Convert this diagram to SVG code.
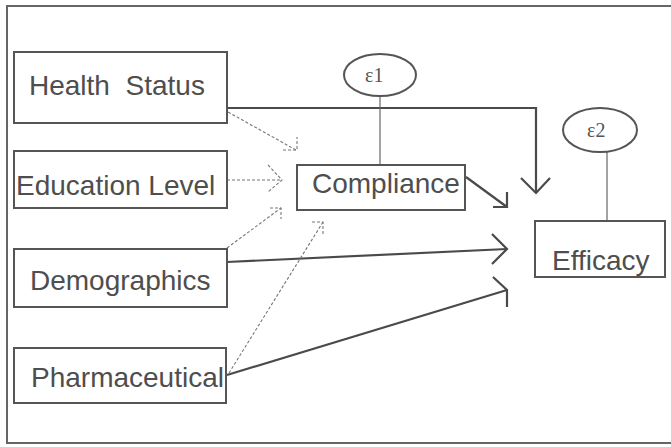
<svg xmlns="http://www.w3.org/2000/svg" width="671" height="447" viewBox="0 0 671 447">
<style>
.box{fill:#fff;stroke:#555;stroke-width:2}
.lbl{font-family:"Liberation Sans",Arial,sans-serif;font-size:28px;fill:#4e4e4e}
.err{fill:#fff;stroke:#555;stroke-width:2}
.eps{font-family:"Liberation Serif","Times New Roman",serif;font-size:20px;fill:#555}
.solid{fill:none;stroke:#4a4a4a;stroke-width:2.2}
.dash{fill:none;stroke:#777;stroke-width:1.1;stroke-dasharray:3 2}
.thin{fill:none;stroke:#666;stroke-width:1.2}
</style>
<rect width="671" height="447" fill="#fff"/>
<path d="M675,6 H7 V443 H675" fill="none" stroke="#666" stroke-width="2"/>
<g id="connectors">
<path class="solid" d="M227,108 H536 V193"/>
<path class="solid" d="M521,178 L536,193 L550,178"/>
<path class="solid" d="M466,177 L507,207"/>
<path class="solid" d="M493,207 H507 V192"/>
<path class="solid" d="M227,262 L507,249"/>
<path class="solid" d="M492,234 L507,249 L492,264"/>
<path class="solid" d="M227,375 L507,290"/>
<path class="solid" d="M493,277 L507,290 V307"/>
<path class="dash" d="M228,112 L296,150"/>
<path class="dash" d="M283,150 H297 V137"/>
<path class="dash" d="M227,180 H282"/>
<path class="dash" d="M268,165 L282,180 L268,192"/>
<path class="dash" d="M227,248 L281,208"/>
<path class="dash" d="M270,208 H281 V219"/>
<path class="dash" d="M229,373 L323,222"/>
<path class="dash" d="M312,222 H323 V235"/>
<path class="thin" d="M380,96 V165"/>
<path class="thin" d="M607,152 V221"/>
</g>
<g id="health-status"><rect class="box" x="14" y="52" width="213" height="71"/><text class="lbl" x="29" y="95" xml:space="preserve">Health  Status</text></g>
<g id="education-level"><rect class="box" x="14" y="151" width="213" height="57"/><text class="lbl" x="16" y="195">Education Level</text></g>
<g id="demographics"><rect class="box" x="14" y="249" width="213" height="58"/><text class="lbl" x="30" y="290">Demographics</text></g>
<g id="pharmaceutical"><rect class="box" x="14" y="348" width="212" height="55"/><text class="lbl" x="31" y="387">Pharmaceutical</text></g>
<g id="compliance"><rect class="box" x="297" y="165" width="168" height="45"/><text class="lbl" x="312" y="193">Compliance</text></g>
<g id="efficacy"><rect class="box" x="535" y="221" width="130" height="56"/><text class="lbl" x="552" y="270">Efficacy</text></g>
<g id="e1"><ellipse class="err" cx="380" cy="75" rx="36" ry="21"/><text class="eps" x="365" y="82">ε1</text></g>
<g id="e2"><ellipse class="err" cx="600" cy="130" rx="37" ry="22"/><text class="eps" x="587" y="137">ε2</text></g>
</svg>
